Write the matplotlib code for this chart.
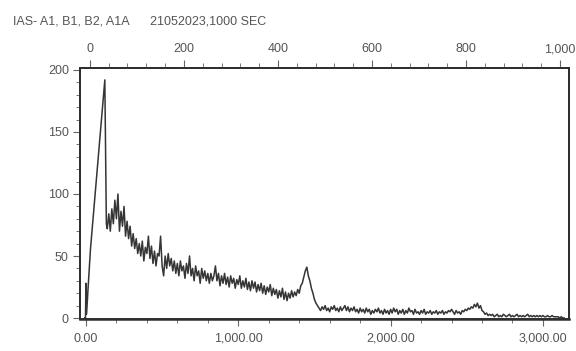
import matplotlib
matplotlib.use("Agg")
import matplotlib.pyplot as plt
import numpy as np
from matplotlib.ticker import FuncFormatter, MultipleLocator

# ---- data ----
title_left = "IAS- A1, B1, B2, A1A"
title_right = "21052023,1000 SEC"

# low-energy part with the narrow spike
spike_energy = [-8, -3, 0, 4, 9, 14, 30, 124, 134]
spike_counts = [0, 0, 28, 3, 14, 24, 56, 192, 76]

# continuum, sampled every 10 energy units starting at 140
cont_start = 140
cont_step = 10
cont_counts = [
    72, 84, 70, 88, 76, 95, 80, 100, 70, 86, 74, 90, 66, 78, 64, 74, 58,          # 140-300
    68, 56, 64, 52, 60, 50, 62, 46, 57, 52, 66, 48, 58, 44, 54, 42, 52, 50, 66, 42, # 310-500
    34, 50, 40, 52, 42, 48, 38, 46, 36, 44, 34, 46, 38, 42, 32, 44, 36, 50, 34, 40,
    30, 42, 34, 38, 28, 40, 32, 38, 30, 36,                                       # 510-800
    28, 36, 30, 34, 42, 30, 36, 26, 34, 28, 36, 27, 33, 25, 34, 28, 32, 24, 31, 27,
    34, 24, 30, 25, 32, 23, 29, 22, 30, 24,                                       # 810-1100
    29, 21, 27, 22, 28, 20, 26, 19, 25, 21, 27, 18, 24, 19, 23, 16, 22, 17, 24, 15,
    21, 14, 20, 16, 22, 17, 21, 18,                                               # 1110-1380
    23, 20, 26, 28, 33, 38, 41, 34, 30, 24, 20, 15, 12, 10, 8,                    # 1390-1530
    6, 9, 7, 10, 6, 8, 5, 9, 7, 10, 6, 8, 5, 9, 6, 8, 10, 6, 9, 5,
    8, 6, 9, 5, 7, 4, 8, 5, 7, 4, 8, 5, 7, 3, 6, 4, 7, 5, 8, 4,
    6, 3, 7, 4, 6, 3, 7, 4, 8, 5, 7, 3, 6, 4, 7, 3, 6, 4, 8, 5,
    6, 3, 7, 4, 5, 3, 6, 4, 7, 3, 5, 4, 6, 3, 5, 4, 6, 3, 5, 4,
    6, 3, 5, 4, 6, 5, 7,                                                          # 1540-2400
    5, 3, 6, 4, 5, 3, 6, 5, 7, 6, 8, 7, 9, 8, 11, 9, 12, 8, 10, 6,
    5, 3, 4, 2, 3,                                                                # 2410-2650
    2, 3, 1, 2, 3, 1, 2, 1, 3, 2, 1, 2, 3, 1, 2, 1, 2, 3, 1, 2,
    1, 2, 1, 2, 3, 1, 2, 1, 2, 1, 2, 1, 2, 1, 2, 1, 1, 2, 1, 1,
    2, 1, 1, 1, 1, 0, 1, 0, 0,                                                    # 2660-3140
]

bottom_ticks = [0, 1000, 2000, 3000]
top_ticks = [0, 200, 400, 600, 800, 1000]
left_ticks = [0, 50, 100, 150, 200]

# ---- build series ----
cont_energy = cont_start + cont_step * np.arange(len(cont_counts))
energy = np.concatenate([spike_energy, cont_energy])
counts = np.concatenate([spike_counts, cont_counts])

plt.rcParams['font.family'] = ['Liberation Sans', 'DejaVu Sans']
text_col = '#555555'
line_col = '#353535'

W, H = 576, 351
fig = plt.figure(figsize=(W / 100, H / 100), dpi=100)
L, R, T, B = 80, 569, 68, 319
ax = fig.add_axes([L / W, 1 - B / H, (R - L) / W, (B - T) / H])

ax.plot(energy, counts, color=line_col, lw=1.1)

ax.set_xlim(-39, 3171)
ax.set_ylim(-0.8, 201.6)

ax.set_xticks(bottom_ticks)
ax.xaxis.set_major_formatter(FuncFormatter(lambda v, p: f"{v:,.2f}"))
ax.xaxis.set_minor_locator(MultipleLocator(200))
ax.set_yticks(left_ticks)
ax.yaxis.set_minor_locator(MultipleLocator(10))

for s in ax.spines.values():
    s.set_color('#2e2e2e')
    s.set_linewidth(1.3)
ax.spines['bottom'].set_linewidth(1.8)

ax.tick_params(axis='both', which='major', direction='out', length=5, width=0.8,
               color='#666666', labelcolor=text_col, labelsize=9, pad=3)
ax.tick_params(axis='x', which='major', pad=5)
ax.tick_params(axis='both', which='minor', direction='out', length=3, width=0.7,
               color='#777777')
ax.tick_params(right=False, top=False, which='both')

ax2 = ax.twiny()
ax2.set_xlim(-21, 1019)
ax2.set_xticks(top_ticks)
ax2.xaxis.set_major_formatter(FuncFormatter(lambda v, p: f"{v:,.0f}"))
ax2.xaxis.set_minor_locator(MultipleLocator(40))
ax2.tick_params(axis='x', which='major', direction='out', length=6, width=0.8,
                color='#666666', labelcolor=text_col, labelsize=9, pad=3)
ax2.tick_params(axis='x', which='minor', direction='out', length=3.5, width=0.7,
                color='#777777')
for s in ax2.spines.values():
    s.set_color('#2e2e2e')
    s.set_linewidth(1.3)

fig.text(13 / W, 1 - 21 / H, title_left, fontsize=9, color=text_col,
         ha='left', va='center')
fig.text(150 / W, 1 - 21 / H, title_right, fontsize=9, color=text_col,
         ha='left', va='center')

fig.savefig('out.png', dpi=100, facecolor='white')
